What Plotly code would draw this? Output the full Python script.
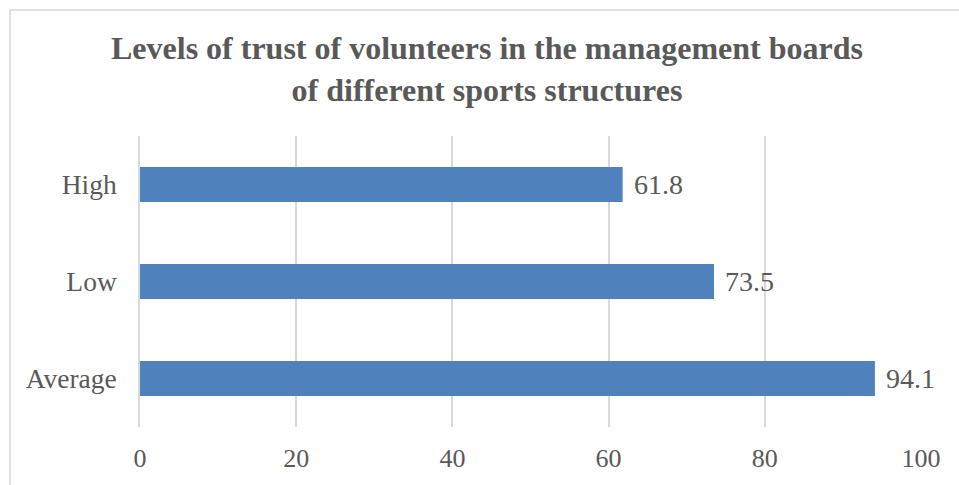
import plotly.graph_objects as go

# Trust levels of volunteers in sports-structure management boards
categories = ["Average", "Low", "High"]
values = [94.1, 73.5, 61.8]
x_ticks = [0, 20, 40, 60, 80, 100]
title_text = ("Levels of trust of volunteers in the management boards"
              "<br>of different sports structures")

BAR_COLOR = "#4F81BD"
TEXT_COLOR = "#595959"
GRID_COLOR = "#D9D9D9"
FONT = "Liberation Serif, Times New Roman, serif"

W, H = 959, 485
L, R, T, B = 140, 38, 136, 58

fig = go.Figure(
    go.Bar(
        x=values,
        y=categories,
        orientation="h",
        marker=dict(color=BAR_COLOR, line=dict(width=0)),
        hoverinfo="skip",
    )
)

# value labels to the right of each bar
for cat, val in zip(categories, values):
    fig.add_annotation(
        x=val, y=cat, text=f"{val:.1f}", showarrow=False,
        xanchor="left", yanchor="middle", xshift=9,
        font=dict(family=FONT, size=28, color=TEXT_COLOR),
    )

pw = W - L - R
ph = H - T - B


def px_x(p):
    return (p - L) / pw


def px_y(p):
    return 1 + (T - p) / ph


# bold two-line title
fig.add_annotation(
    x=px_x(487), y=px_y(69), xref="paper", yref="paper",
    text=f"<b>{title_text}</b>", showarrow=False,
    xanchor="center", yanchor="middle", align="center",
    font=dict(family=FONT, size=32, color=TEXT_COLOR),
)

# light chart-area border (left and top edges fall inside the view)
fig.add_shape(
    type="rect", xref="paper", yref="paper",
    x0=px_x(10), x1=1.2, y0=-0.5, y1=px_y(10),
    line=dict(color=GRID_COLOR, width=1.5), layer="below",
)

fig.update_layout(
    width=W, height=H,
    margin=dict(l=L, r=R, t=T, b=B),
    paper_bgcolor="white", plot_bgcolor="white",
    bargap=0.64,
    showlegend=False,
    xaxis=dict(
        range=[0, 100], tickvals=x_ticks, showgrid=True, gridcolor=GRID_COLOR,
        gridwidth=1.5, zeroline=False, showline=False, ticks="",
        ticklabelstandoff=13,
        tickfont=dict(family=FONT, size=26, color=TEXT_COLOR),
    ),
    yaxis=dict(
        range=[-0.5, 2.5], showgrid=False, zeroline=False,
        showline=True, linecolor=GRID_COLOR, linewidth=1.5, ticks="",
        ticklabelstandoff=16,
        tickfont=dict(family=FONT, size=27.5, color=TEXT_COLOR),
    ),
)

fig.write_html("out.html")
